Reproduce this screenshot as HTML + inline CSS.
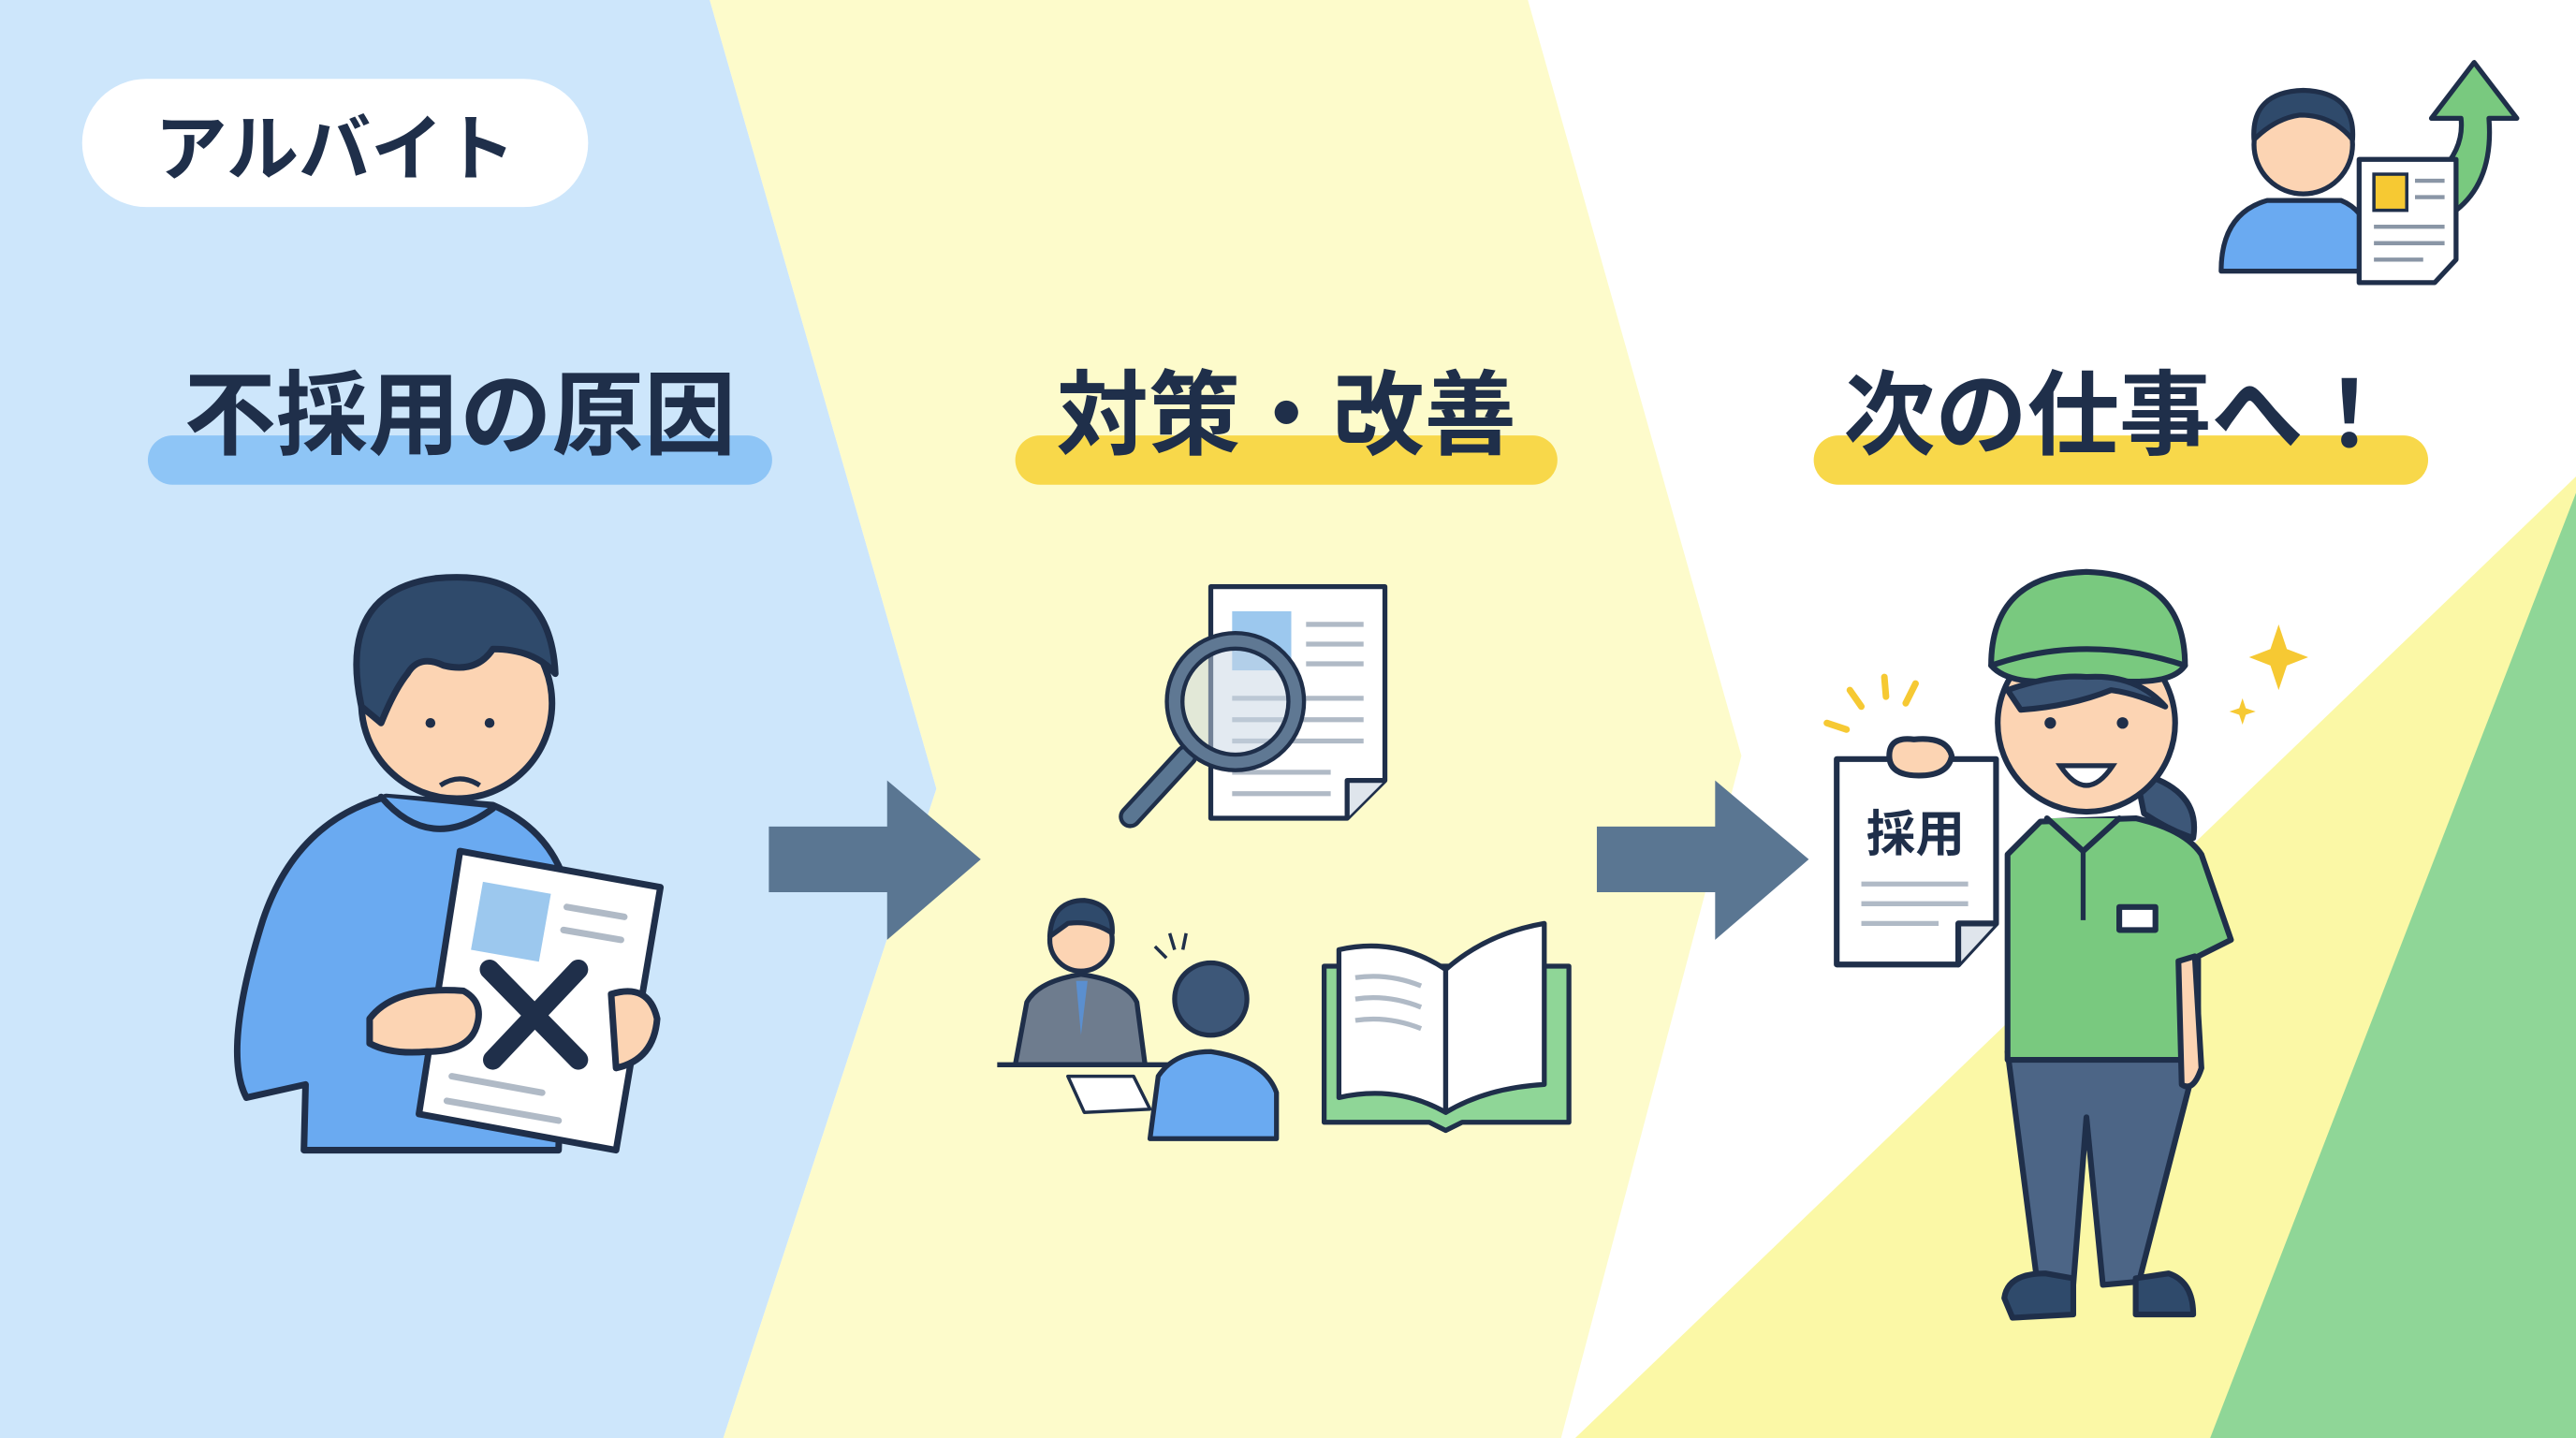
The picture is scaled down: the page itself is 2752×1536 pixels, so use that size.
<!DOCTYPE html>
<html><head><meta charset="utf-8"><style>
html,body{margin:0;padding:0;width:2752px;height:1536px;overflow:hidden;background:#fff}
svg{display:block}
text{font-family:"Liberation Sans","Noto Sans CJK JP",sans-serif;font-weight:bold;fill:#1f2f4a}
</style></head><body>
<svg width="2752" height="1536" viewBox="0 0 2752 1536" xmlns="http://www.w3.org/2000/svg">
<g transform="scale(1.7551)">
<!-- backgrounds -->
<rect width="1568" height="876" fill="#ffffff"/>
<polygon points="0,0 432,0 570,480 440,876 0,876" fill="#cde6fb"/>
<polygon points="432,0 930,0 1060,460 950,876 440,876 570,480" fill="#fdfbcb"/>
<polygon points="958,876 1568,290 1568,876" fill="#fbf8a6"/>
<polygon points="1345,876 1568,300 1568,876" fill="#8fd697"/>

<!-- pill -->
<rect x="50" y="48" width="308" height="78" rx="39" fill="#fff"/>
<text x="204" y="106" font-size="44" text-anchor="middle">アルバイト</text>

<!-- heading bars -->
<rect x="90" y="265" width="380" height="30" rx="15" fill="#8ec5f6"/>
<rect x="618" y="265" width="330" height="30" rx="15" fill="#f8d84a"/>
<rect x="1104" y="265" width="374" height="30" rx="15" fill="#f8d84a"/>
<text x="280" y="272" font-size="56" text-anchor="middle">不採用の原因</text>
<text x="783" y="272" font-size="56" text-anchor="middle">対策・改善</text>
<text x="1290" y="272" font-size="56" text-anchor="middle">次の仕事へ！</text>

<!-- arrows -->
<polygon points="468,503 540,503 540,475 597,523 540,572 540,543 468,543" fill="#5a7692"/>
<polygon points="972,503 1044,503 1044,475 1101,523 1044,572 1044,543 972,543" fill="#5a7692"/>

<!-- sad man -->
<g stroke="#1f2f4a" stroke-width="4" stroke-linejoin="round" stroke-linecap="round">
<path d="M185,700 L186,660 L150,668 Q135,640 160,560 Q180,500 235,485 L300,490 Q335,505 345,540 L340,700 Z" fill="#6aaaf1"/>
<path d="M232,485 Q262,520 300,492" fill="#6aaaf1"/>
<circle cx="278" cy="428" r="58" fill="#fcd4b3"/>
<path d="M220,430 Q205,360 265,352 Q335,345 338,410 Q325,395 300,395 Q290,410 270,405 Q255,398 248,410 Q240,420 232,440 Z" fill="#2f4a6b"/>
<path d="M280,518 L402,540 L375,700 L255,678 Z" fill="#fff"/>
<rect x="290" y="540" width="42" height="42" fill="#9cc8ee" stroke="none" transform="rotate(10 311 561)"/>
<path d="M298,590 L352,645 M352,590 L300,645" stroke="#1f2f4a" stroke-width="12"/>
<path d="M225,620 Q240,600 282,603 Q295,610 290,625 Q285,640 260,640 Q238,642 225,635 Z" fill="#fcd4b3"/>
<path d="M372,605 Q395,598 400,620 Q398,645 375,650 Z" fill="#fcd4b3"/>
</g>
<g stroke="#b0bac6" stroke-width="4" stroke-linecap="round">
<line x1="345" y1="552" x2="380" y2="558"/><line x1="343" y1="566" x2="378" y2="572"/>
<line x1="275" y1="655" x2="330" y2="665"/><line x1="272" y1="670" x2="340" y2="682"/>
</g>
<g fill="#1f2f4a"><circle cx="262" cy="440" r="3"/><circle cx="298" cy="440" r="3"/></g>
<path d="M268,478 Q280,470 292,478" stroke="#1f2f4a" stroke-width="3" fill="none"/>

<!-- magnifier doc -->
<g stroke="#1f2f4a" stroke-width="3" stroke-linejoin="round">
<path d="M737,357 L843,357 L843,475 L820,498 L737,498 Z" fill="#fff"/>
<path d="M820,498 L820,475 L843,475" fill="#dfe5ec"/>
</g>
<rect x="750" y="372" width="36" height="36" fill="#9cc8ee"/>
<g stroke="#b0bac6" stroke-width="3"><line x1="795" y1="380" x2="830" y2="380"/><line x1="795" y1="392" x2="830" y2="392"/><line x1="795" y1="404" x2="830" y2="404"/><line x1="750" y1="425" x2="830" y2="425"/><line x1="750" y1="438" x2="830" y2="438"/><line x1="750" y1="451" x2="830" y2="451"/><line x1="750" y1="470" x2="810" y2="470"/><line x1="750" y1="483" x2="810" y2="483"/></g>
<line x1="688" y1="497" x2="722" y2="460" stroke="#1f2f4a" stroke-width="14" stroke-linecap="round"/>
<line x1="688" y1="497" x2="722" y2="460" stroke="#5a7692" stroke-width="9" stroke-linecap="round"/>
<circle cx="752" cy="427" r="37" fill="#c8d6e4" fill-opacity="0.5" stroke="#1f2f4a" stroke-width="12"/>
<circle cx="752" cy="427" r="37" fill="none" stroke="#5f7893" stroke-width="7"/>

<!-- interview -->
<g stroke="#1f2f4a" stroke-width="3" stroke-linejoin="round">
<path d="M618,648 L625,610 Q632,597 658,593 Q686,597 692,610 L697,648 Z" fill="#6e7c8e"/>
<circle cx="658" cy="572" r="19" fill="#fcd4b3"/>
<path d="M639,570 Q640,548 660,548 Q678,550 677,568 Q665,560 650,562 Z" fill="#2f4a6b"/>
<line x1="607" y1="648" x2="720" y2="648"/>
<path d="M650,655 L690,655 L700,675 L660,677 Z" fill="#fff" stroke-width="2"/>
<path d="M700,693 L705,655 Q715,640 737,640 Q770,645 777,665 L777,693 Z" fill="#6aaaf1"/>
<circle cx="737" cy="608" r="22" fill="#3d5778"/>
</g>
<path d="M655,597 L658,630 L662,597 Z" fill="#5b8fcf"/>
<g stroke="#1f2f4a" stroke-width="2"><line x1="703" y1="576" x2="710" y2="583"/><line x1="712" y1="568" x2="715" y2="578"/><line x1="722" y1="568" x2="720" y2="578"/></g>

<!-- book -->
<g stroke="#1f2f4a" stroke-width="3" stroke-linejoin="round">
<path d="M806,588 L806,683 L870,683 L880,688 L890,683 L955,683 L955,588 Z" fill="#8fd697"/>
<path d="M815,578 Q850,570 880,590 L880,677 Q850,660 815,668 Z" fill="#fff"/>
<path d="M880,590 Q905,568 940,562 L940,660 Q905,662 880,677 Z" fill="#fff"/>
</g>
<g stroke="#b0bac6" stroke-width="3" fill="none"><path d="M825,595 Q845,592 865,600"/><path d="M825,608 Q845,605 865,613"/><path d="M825,621 Q845,618 865,626"/></g>

<!-- woman -->
<g stroke="#1f2f4a" stroke-width="3.5" stroke-linejoin="round" stroke-linecap="round">
<path d="M1300,470 Q1340,480 1335,510 Q1320,505 1305,495 Z" fill="#3d5778"/>
<path d="M1222,640 L1240,780 L1262,782 L1270,680 L1280,782 L1302,780 L1338,640 Z" fill="#4c6586"/>
<path d="M1220,790 Q1222,775 1245,775 L1262,778 L1262,800 L1225,802 Z" fill="#2f4a6b"/>
<path d="M1300,778 L1320,775 Q1335,780 1335,800 L1300,800 Z" fill="#2f4a6b"/>
<path d="M1242,500 L1300,498 Q1330,505 1340,520 L1358,572 L1338,582 L1338,645 L1222,645 L1222,520 Z" fill="#79c97f"/>
<path d="M1336,582 L1340,650 Q1335,665 1328,660 L1326,585 Z" fill="#fcd4b3"/>
<circle cx="1270" cy="440" r="54" fill="#fcd4b3"/>
<path d="M1212,405 Q1212,350 1270,348 Q1330,350 1330,405 Z" fill="#79c97f"/>
<path d="M1212,405 Q1270,385 1330,405 Q1320,420 1270,412 Q1225,420 1212,405 Z" fill="#79c97f"/>
<path d="M1222,420 Q1250,410 1270,412 Q1300,410 1318,430 Q1300,422 1285,420 Q1260,430 1230,432 Z" fill="#3d5778"/>
<path d="M1118,462 L1215,462 L1215,562 L1192,587 L1118,587 Z" fill="#fff"/>
<path d="M1192,587 L1192,562 L1215,562" fill="#dfe5ec"/>
<path d="M1150,460 Q1150,448 1165,450 Q1185,448 1188,460 Q1186,472 1168,472 Q1150,472 1150,460 Z" fill="#fcd4b3"/>
<path d="M1246,498 L1268,518 L1290,498" fill="#79c97f"/>
<rect x="1290" y="552" width="22" height="14" fill="#fff"/>
</g>
<line x1="1268" y1="518" x2="1268" y2="560" stroke="#1f2f4a" stroke-width="3"/>
<g fill="#1f2f4a"><circle cx="1248" cy="440" r="3.5"/><circle cx="1292" cy="440" r="3.5"/></g>
<path d="M1254,466 Q1270,490 1286,466 Z" fill="#fff" stroke="#1f2f4a" stroke-width="3"/>
<text x="1166" y="518" font-size="30" text-anchor="middle">採用</text>
<g stroke="#b0bac6" stroke-width="3"><line x1="1133" y1="538" x2="1198" y2="538"/><line x1="1133" y1="550" x2="1198" y2="550"/><line x1="1133" y1="562" x2="1180" y2="562"/></g>
<g stroke="#f6c933" stroke-width="4" stroke-linecap="round"><line x1="1112" y1="440" x2="1124" y2="444"/><line x1="1126" y1="420" x2="1133" y2="430"/><line x1="1147" y1="412" x2="1148" y2="424"/><line x1="1166" y1="416" x2="1160" y2="428"/></g>
<path d="M1387,380 L1392,395 L1405,400 L1392,405 L1387,420 L1382,405 L1369,400 L1382,395 Z" fill="#f6c933"/>
<path d="M1365,425 L1367,431 L1373,433 L1367,435 L1365,441 L1363,435 L1357,433 L1363,431 Z" fill="#f6c933"/>

<!-- top right icon -->
<g stroke="#1f2f4a" stroke-width="3" stroke-linejoin="round">
<path d="M1485,105 Q1500,90 1498,72 L1480,72 L1506,38 L1532,72 L1515,72 Q1518,110 1495,128 Z" fill="#79c97f"/>
<path d="M1352,165 Q1352,130 1380,122 L1425,122 Q1445,130 1448,165 Z" fill="#6aaaf1"/>
<circle cx="1402" cy="88" r="30" fill="#fcd4b3"/>
<path d="M1372,85 Q1370,56 1402,55 Q1434,56 1432,85 Q1420,70 1400,70 Q1385,72 1372,85 Z" fill="#2f4a6b"/>
<path d="M1436,97 L1495,97 L1495,158 L1482,172 L1436,172 Z" fill="#fff"/>
</g>
<rect x="1445" y="106" width="20" height="22" fill="#f6c933" stroke="#1f2f4a" stroke-width="2"/>
<g stroke="#8a96a6" stroke-width="2.5"><line x1="1470" y1="110" x2="1488" y2="110"/><line x1="1470" y1="120" x2="1488" y2="120"/><line x1="1445" y1="138" x2="1488" y2="138"/><line x1="1445" y1="148" x2="1488" y2="148"/><line x1="1445" y1="158" x2="1475" y2="158"/></g>
</g>
</svg>
</body></html>
